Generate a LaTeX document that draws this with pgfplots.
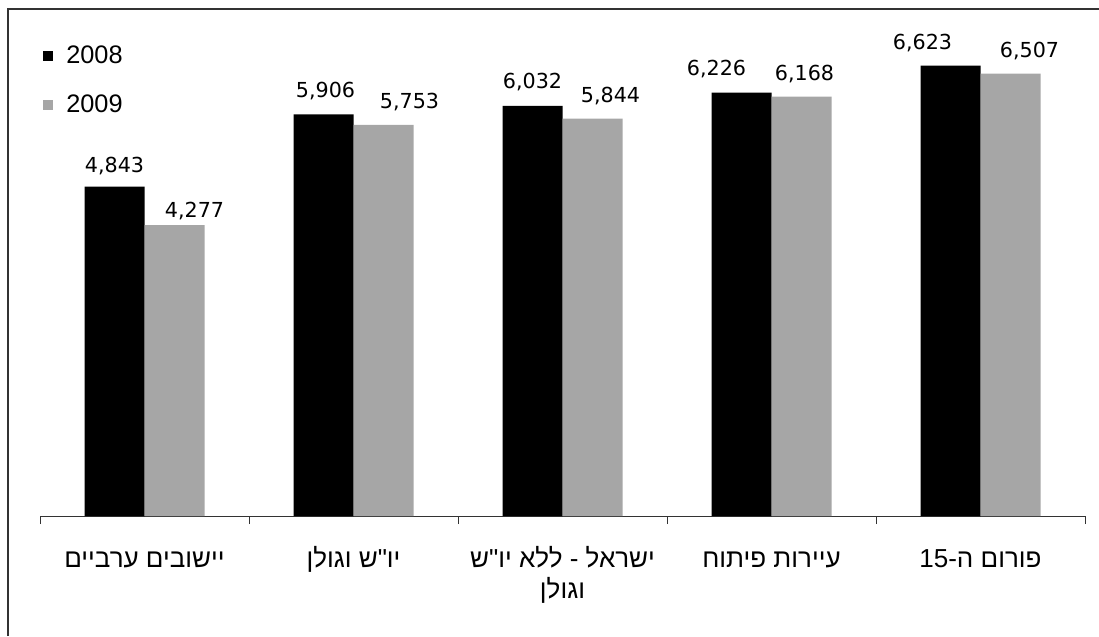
\documentclass[border=0pt]{standalone}
\usepackage{fontspec}
\setmainfont{Liberation Sans}
\newfontfamily\hebfont[Script=Hebrew]{Liberation Sans}
\newfontfamily\labfont{DejaVu Sans}
\usepackage{pgfplots}
\usepackage{pgfplotstable}
\pgfplotsset{compat=1.18}
\TeXXeTstate=1
\definecolor{bargray}{HTML}{A6A6A6}
\definecolor{framecol}{HTML}{333333}

\pgfplotstableread{
x y dx dy
0 4843 0 10.5
1 5906 1.5 12.75
2 6032 0 12.75
3 6226 -18.75 12.75
4 6623 -21 12
}\blackdata
\pgfplotstableread{
x y dx dy
0 4277 15 6
1 5753 19.5 12
2 5844 13.5 12
3 6168 2.25 12
4 6507 14.25 12
}\graydata

\begin{document}
\begin{tikzpicture}
\path[use as bounding box] (-30pt,-90pt) rectangle (794.25pt,387pt);
\draw[line width=1.5pt, framecol] (-24pt,-90pt) -- (-24pt,380.25pt) -- (794.25pt,380.25pt);
\begin{axis}[
  at={(0pt,0pt)}, anchor=south west,
  scale only axis, width=783.75pt, height=357pt,
  xmin=-0.5, xmax=4.5, ymin=0, ymax=7000,
  ybar=0pt, bar width=45pt,
  axis y line=none, axis x line*=bottom,
  x axis line style={-, line width=0.75pt, black!80},
  xtick={0,1,2,3,4},
  minor xtick={-0.5,0.5,1.5,2.5,3.5,4.5},
  major tick length=0pt, minor tick length=6pt,
  xtick align=outside,
  every tick/.style={line width=0.75pt, black!80},
  xticklabels={
    {\beginR יישובים ערביים\endR},
    {\beginR יו"ש וגולן\endR},
    {\begin{tabular}[t]{@{}c@{}}\beginR ישראל - ללא יו"ש\endR\\\beginR וגולן\endR\end{tabular}},
    {\beginR עיירות פיתוח\endR},
    {\beginR פורום ה-\beginL 15\endL\endR}
  },
  xticklabel style={font=\hebfont\fontsize{19.5}{23.25}\selectfont, anchor=base, inner sep=0pt, yshift=-38.25pt},
  ytick=\empty,
  clip=false,
  legend style={at={(0,1)}, anchor=north west, xshift=2.25pt, yshift=-4.45pt,
    draw=none, fill=none, inner sep=0pt, row sep=21.65pt, column sep=9.75pt,
    font=\fontsize{19}{19}\selectfont, nodes={inner sep=0pt}},
  legend cell align=left,
  legend image code/.code={\path[#1,draw=none] (0pt,-3.75pt) rectangle (7.5pt,3.75pt);},
  visualization depends on={\thisrow{dx} \as \labdx},
  visualization depends on={\thisrow{dy} \as \labdy},
  nodes near coords={\labfont\pgfmathprintnumber[assume math mode=true,fixed,precision=0,1000 sep={,}]{\pgfplotspointmeta}},
  every node near coord/.append style={font=\fontsize{15.5}{15.5}\selectfont, anchor=base, inner sep=0pt, xshift=\labdx pt, yshift=\labdy pt},
]
\addplot[fill=black, draw=none] table[x=x, y=y] {\blackdata};
\addplot[fill=bargray, draw=none] table[x=x, y=y] {\graydata};
\legend{2008,2009}
\end{axis}
\end{tikzpicture}
\end{document}
